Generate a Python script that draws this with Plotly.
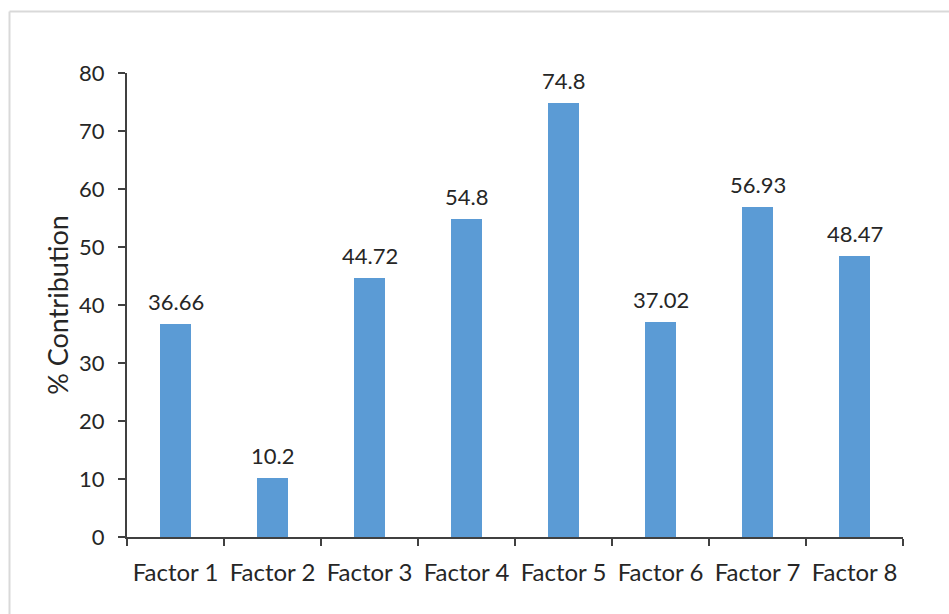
import plotly.graph_objects as go

categories = ["Factor 1", "Factor 2", "Factor 3", "Factor 4", "Factor 5", "Factor 6", "Factor 7", "Factor 8"]
values = [36.66, 10.2, 44.72, 54.8, 74.8, 37.02, 56.93, 48.47]
labels = ["36.66", "10.2", "44.72", "54.8", "74.8", "37.02", "56.93", "48.47"]
y_ticks = [0, 10, 20, 30, 40, 50, 60, 70, 80]

FONT = "Lato"
TXT = "#262626"
AX = "#404040"

fig = go.Figure()
fig.add_trace(go.Bar(
    x=categories, y=values,
    marker=dict(color="#5b9bd5", line=dict(width=0)),
    width=0.31,
    hoverinfo="skip",
))

for c, v, t in zip(categories, values, labels):
    fig.add_annotation(x=c, y=v, text=t, showarrow=False, yanchor="bottom",
                       yshift=7, font=dict(family=FONT, size=22, color=TXT))

fig.update_layout(
    width=949, height=614,
    margin=dict(l=127, r=46, t=73, b=77, autoexpand=False),
    paper_bgcolor="white", plot_bgcolor="white",
    showlegend=False,
    font=dict(family=FONT, size=22, color=TXT),
    bargap=0,
    shapes=[
        dict(type="line", xref="paper", yref="paper", x0=-0.1514, x1=1.2, y0=1.1325, y1=1.1325,
             line=dict(color="#d9d9d9", width=2)),
        dict(type="line", xref="paper", yref="paper", x0=-0.1514, x1=-0.1514, y0=1.1325, y1=-0.3,
             line=dict(color="#d9d9d9", width=2)),
    ],
)

fig.update_xaxes(
    type="category", range=[-0.5, 7.5],
    showline=True, linecolor=AX, linewidth=2,
    ticks="outside", tickcolor=AX, ticklen=7, tickwidth=2,
    tickson="boundaries",
    showgrid=False, zeroline=False,
    tickfont=dict(family=FONT, size=24, color=TXT),
    ticklabelstandoff=13,
)
fig.update_yaxes(
    range=[0, 80], tickvals=y_ticks,
    showline=True, linecolor=AX, linewidth=2,
    ticks="outside", tickcolor=AX, ticklen=7, tickwidth=2,
    showgrid=False, zeroline=False,
    tickfont=dict(family=FONT, size=22, color=TXT),
    ticklabelstandoff=9,
    title=dict(text="% Contribution", font=dict(family=FONT, size=27, color=TXT), standoff=3),
)

fig.write_html("out.html")
